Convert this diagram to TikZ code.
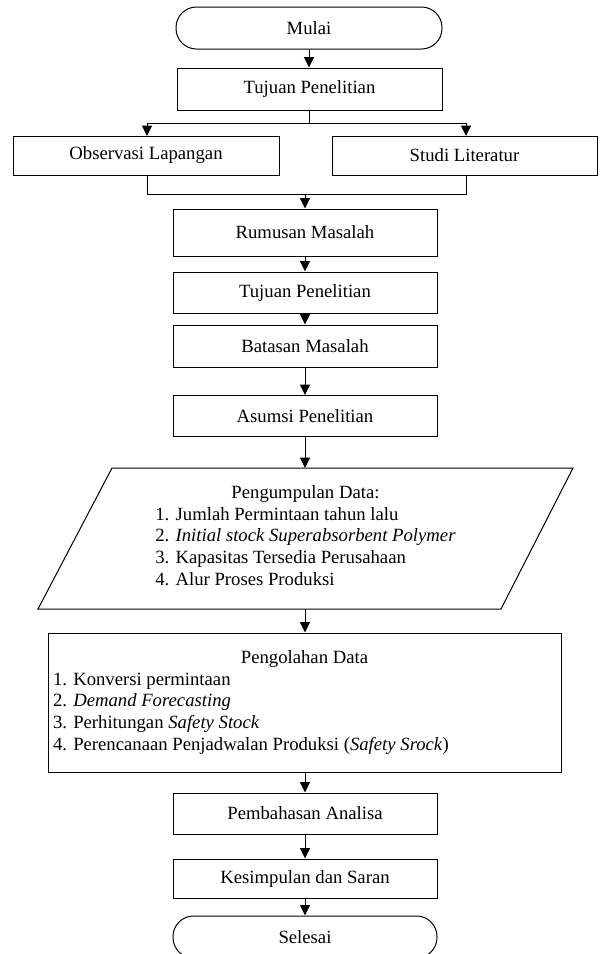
\documentclass[tikz,border=0pt]{standalone}
\usepackage{fontspec}
\setmainfont{Liberation Serif}
\usetikzlibrary{arrows.meta}
\begin{document}
\begin{tikzpicture}[x=1pt,y=-1pt,
  every node/.style={font=\fontsize{18.7}{21.7}\selectfont, inner sep=0pt},
  procbox/.style={draw, line width=1pt, rectangle},
  termbox/.style={draw, line width=1pt, rectangle, rounded corners=20.5pt},
  conn/.style={line width=1pt},
  arr/.style={line width=1pt, -{Triangle[length=10.5pt,width=10pt]}}]
\useasboundingbox (0,0) rectangle (601,954);

\node[termbox, minimum width=266pt, minimum height=42pt] (mulai) at (309,28) {Mulai};
\node[procbox, minimum width=265pt, minimum height=42pt] (tuj1) at (309.5,89) {Tujuan Penelitian};
\node[procbox, minimum width=266pt, minimum height=39pt] (obs) at (146,155.5) {Observasi Lapangan};
\node[procbox, minimum width=265pt, minimum height=39pt] (studi) at (464.5,155.5) {Studi Literatur};
\node[procbox, minimum width=264pt, minimum height=47pt] (rumusan) at (305,232.5) {Rumusan Masalah};
\node[procbox, minimum width=264pt, minimum height=41pt] (tuj2) at (305,292.5) {Tujuan Penelitian};
\node[procbox, minimum width=264pt, minimum height=42pt] (batasan) at (305,346) {Batasan Masalah};
\node[procbox, minimum width=264pt, minimum height=41pt] (asumsi) at (305,416) {Asumsi Penelitian};

% parallelogram
\draw[line width=1pt] (112,468) -- (573,468) -- (501,609) -- (38,609) -- cycle;
\node[align=center] (pd) at (305.5,538.5) {Pengumpulan Data:\\
  \begin{tabular}[t]{@{}l@{}}
  1. Jumlah Permintaan tahun lalu\\
  2. \textit{Initial stock Superabsorbent Polymer}\\
  3. Kapasitas Tersedia Perusahaan\\
  4. Alur Proses Produksi
  \end{tabular}};
\coordinate (pdtop) at (305,468);
\coordinate (pdbot) at (305,609);

\node[procbox, minimum width=513pt, minimum height=139pt] (olah) at (304.5,702.5)
  {\parbox{503pt}{{\centering Pengolahan Data\par}\raggedright
  1. Konversi permintaan\\
  2. \textit{Demand Forecasting}\\
  3. Perhitungan \textit{Safety Stock}\\
  4. Perencanaan Penjadwalan Produksi (\textit{Safety Srock})}};

\node[procbox, minimum width=264pt, minimum height=41pt] (bahas) at (305,813.5) {Pembahasan Analisa};
\node[procbox, minimum width=264pt, minimum height=39pt] (simpul) at (305,878.5) {Kesimpulan dan Saran};
\node[termbox, minimum width=264pt, minimum height=42pt] (selesai) at (305,937) {Selesai};

% connectors
\draw[arr] (mulai.south) -- (mulai.south |- tuj1.north);
\coordinate (split) at (309.5,123);
\coordinate (merge) at (305,194);
\draw[conn] (tuj1.south) -- (split);
\draw[arr] (split) -| (147,136);
\draw[arr] (split) -| (466,136);
\draw[conn] (147,175) |- (merge);
\draw[conn] (466,175) |- (merge);
\draw[arr] (merge) -- (rumusan.north);
\draw[arr] (rumusan.south) -- (tuj2.north);
\draw[arr] (tuj2.south) -- (batasan.north);
\draw[arr] (batasan.south) -- (asumsi.north);
\draw[arr] (asumsi.south) -- (pdtop);
\draw[arr] (pdbot) -- (pdbot |- olah.north);
\draw[arr] (pdbot |- olah.south) -- (bahas.north);
\draw[arr] (bahas.south) -- (simpul.north);
\draw[arr] (simpul.south) -- (selesai.north);
\end{tikzpicture}
\end{document}
